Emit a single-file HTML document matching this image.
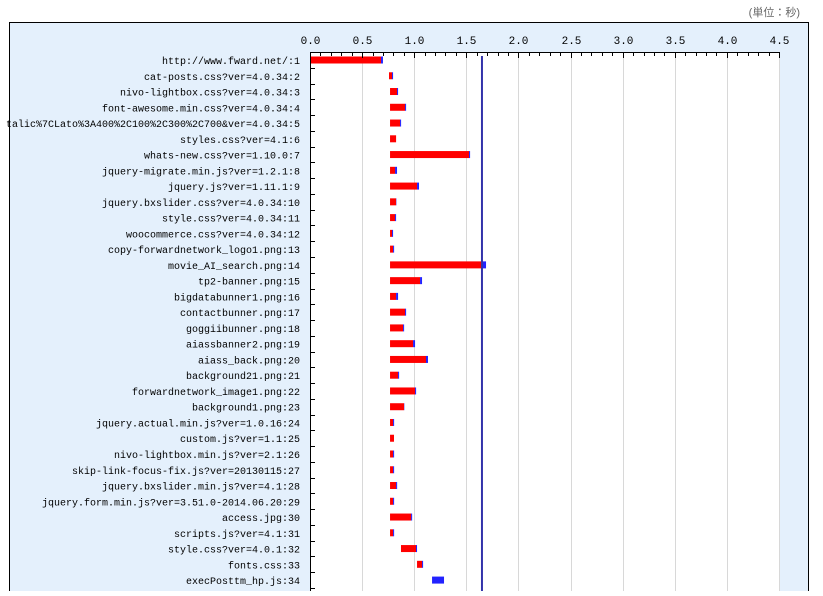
<!DOCTYPE html>
<html><head><meta charset="utf-8"><style>
body{margin:0;width:823px;height:591px;overflow:hidden;background:#fff;font-family:"Liberation Mono","Noto Sans CJK JP",monospace;}
</style></head><body>
<svg id="chart" width="823" height="591" xmlns="http://www.w3.org/2000/svg">
<text x="800" y="16" font-size="11" fill="#666" text-anchor="end" font-family="Liberation Sans, Noto Sans CJK JP, sans-serif">(単位：秒)</text>
<rect x="9.5" y="22.5" width="799" height="580" fill="#e4f0fc" stroke="#000"/>
<rect x="310" y="52" width="469" height="550" fill="#fff"/>
<g id="grid"></g><g id="bars"></g><g id="axes"></g>
</svg>
<script>
const labels=["http://www.fward.net/:1","cat-posts.css?ver=4.0.34:2","nivo-lightbox.css?ver=4.0.34:3","font-awesome.min.css?ver=4.0.34:4","talic%7CLato%3A400%2C100%2C300%2C700&ver=4.0.34:5","styles.css?ver=4.1:6","whats-new.css?ver=1.10.0:7","jquery-migrate.min.js?ver=1.2.1:8","jquery.js?ver=1.11.1:9","jquery.bxslider.css?ver=4.0.34:10","style.css?ver=4.0.34:11","woocommerce.css?ver=4.0.34:12","copy-forwardnetwork_logo1.png:13","movie_AI_search.png:14","tp2-banner.png:15","bigdatabunner1.png:16","contactbunner.png:17","goggiibunner.png:18","aiassbanner2.png:19","aiass_back.png:20","background21.png:21","forwardnetwork_image1.png:22","background1.png:23","jquery.actual.min.js?ver=1.0.16:24","custom.js?ver=1.1:25","nivo-lightbox.min.js?ver=2.1:26","skip-link-focus-fix.js?ver=20130115:27","jquery.bxslider.min.js?ver=4.1:28","jquery.form.min.js?ver=3.51.0-2014.06.20:29","access.jpg:30","scripts.js?ver=4.1:31","style.css?ver=4.0.1:32","fonts.css:33","execPosttm_hp.js:34"];
const starts=[0,0.758,0.768,0.768,0.768,0.768,0.768,0.768,0.768,0.768,0.768,0.768,0.768,0.768,0.768,0.768,0.768,0.768,0.768,0.768,0.768,0.768,0.768,0.768,0.768,0.768,0.768,0.768,0.768,0.768,0.768,0.873,1.027,1.171];
const redDur=[0.681,0.029,0.067,0.144,0.096,0.058,0.758,0.048,0.259,0.058,0.048,0.019,0.029,0.873,0.288,0.058,0.144,0.125,0.221,0.345,0.077,0.240,0.134,0.029,0.038,0.029,0.029,0.058,0.029,0.202,0.029,0.144,0.048,0];
const blueDur=[0.019,0.01,0.01,0.01,0.01,0,0.01,0.019,0.019,0.003,0.01,0.01,0.01,0.048,0.019,0.019,0.01,0.01,0.019,0.019,0.01,0.01,0.003,0.01,0,0.01,0.01,0.01,0.01,0.01,0.01,0.01,0.01,0.115];
const ticks=["0.0","0.5","1.0","1.5","2.0","2.5","3.0","3.5","4.0","4.5"];
const markerValue=1.65;
const NS="http://www.w3.org/2000/svg";
const X0=310,X1=779,XMAX=4.5,Y0=52,ROW=15.76;
const xs=v=>X0+v/XMAX*(X1-X0);
const yc=i=>Y0+8+i*ROW;
function mk(t,a,p){const e=document.createElementNS(NS,t);for(const k in a)e.setAttribute(k,a[k]);p.appendChild(e);return e;}
const grid=document.getElementById('grid'),bars=document.getElementById('bars'),axes=document.getElementById('axes');
ticks.forEach(t=>{const x=Math.round(xs(parseFloat(t)))+0.5;
 const g=mk('line',{x1:x,x2:x,y1:Y0,y2:602,stroke:'#d8d8d8','stroke-width':1},grid);
 
 
 const tx=mk('text',{x:x,y:44,'font-size':11,'text-anchor':'middle',fill:'#000'},axes);tx.textContent=t;
 
 
});
for(let v=0;v<=45;v++){const x=Math.round(xs(v/10))+0.5;const l=mk('line',{x1:x,x2:x,y1:Y0,y2:Y0+(v%5==0?6:4),stroke:'#000'},axes);
 
 }
const ax=mk('line',{x1:X0,x2:X1+0.5,y1:Y0+0.5,y2:Y0+0.5,stroke:'#000'},axes);


const ay=mk('line',{x1:X0+0.5,x2:X0+0.5,y1:Y0,y2:602,stroke:'#000'},axes);


labels.forEach((lab,i)=>{
 const y=yc(i);
 const tk=mk('line',{x1:X0,x2:X0+5,y1:Math.round(y+ROW/2)+0.5,y2:Math.round(y+ROW/2)+0.5,stroke:'#000'},axes);
 
 
 const t=mk('text',{x:300,y:y+4,'font-size':10,'text-anchor':'end',fill:'#000'},axes);t.textContent=lab;
 
 
 const rx=xs(starts[i]),rw=xs(starts[i]+redDur[i])-rx;
 if(rw>0){const r=mk('rect',{x:rx,y:y-3.5,width:rw,height:7,fill:'#ff0000'},bars);
  
  }
 const bx=xs(starts[i]+redDur[i]),bw=xs(starts[i]+redDur[i]+blueDur[i])-bx;
 if(bw>0){const b=mk('rect',{x:bx,y:y-3.5,width:bw,height:7,fill:'#2222ff'},bars);
  
  }
});
const m=mk('line',{x1:xs(markerValue),x2:xs(markerValue),y1:Y0+4,y2:602,stroke:'#3333aa','stroke-width':2},bars);


</script>
</body></html>
